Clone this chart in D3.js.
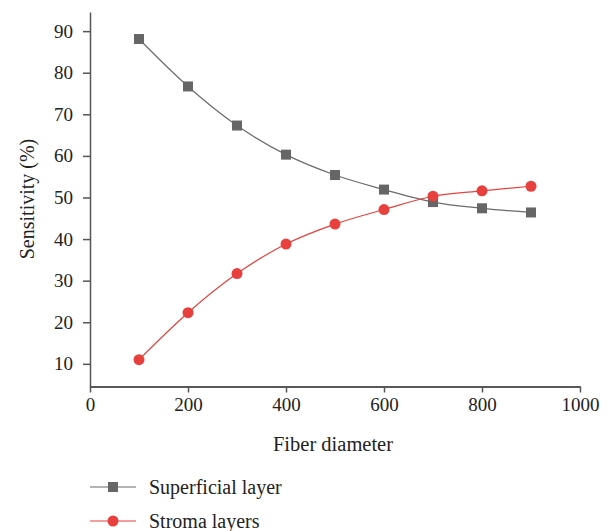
<!DOCTYPE html>
<html>
<head>
<meta charset="utf-8">
<script src="https://cdn.jsdelivr.net/npm/d3@7"></script>
<style>
  body { margin: 0; background: #fff; }
  text { font-family: "Liberation Serif", "DejaVu Serif", serif; fill: #222; }
</style>
</head>
<body>
<script>
// data
var diameters = [100, 200, 300, 400, 500, 600, 700, 800, 900];
var superficial = [88.1, 76.7, 67.3, 60.3, 55.4, 51.9, 48.9, 47.4, 46.4];
var stroma = [11.0, 22.3, 31.7, 38.8, 43.6, 47.1, 50.3, 51.6, 52.7];
var xTicks = [0, 200, 400, 600, 800, 1000];
var yTicks = [10, 20, 30, 40, 50, 60, 70, 80, 90];

var svg = d3.select("body").append("svg")
    .attr("width", 612)
    .attr("height", 531);

var x = d3.scaleLinear().domain([0, 1000]).range([90, 580]);
var y = d3.scaleLinear().domain([4.55, 94.6]).range([386.5, 12]);

// x axis
var xAxis = svg.append("g")
    .attr("transform", "translate(0," + y(4.55) + ")")
    .call(d3.axisBottom(x).tickValues(xTicks).tickFormat(d3.format("d"))
        .tickSize(6).tickPadding(5).tickSizeOuter(0));
xAxis.select(".domain").attr("stroke", "#222").attr("stroke-width", 1.5);
xAxis.selectAll(".tick line").attr("stroke", "#555").attr("stroke-width", 1.5);
xAxis.selectAll("text").attr("font-size", 19).attr("font-family", "Liberation Serif").attr("fill", "#222");

// y axis
var yAxis = svg.append("g")
    .attr("transform", "translate(" + x(0) + ",0)")
    .call(d3.axisLeft(y).tickValues(yTicks).tickSize(7).tickPadding(10).tickSizeOuter(0));
yAxis.select(".domain").attr("stroke", "#555").attr("stroke-width", 1.5);
yAxis.selectAll(".tick line").attr("stroke", "#555").attr("stroke-width", 1.5);
yAxis.selectAll("text").attr("font-size", 19).attr("font-family", "Liberation Serif").attr("fill", "#222");

svg.append("text")
    .attr("x", 333).attr("y", 451)
    .attr("text-anchor", "middle")
    .attr("font-size", 20.5)
    .text("Fiber diameter");

svg.append("text")
    .attr("transform", "translate(34,199) rotate(-90)")
    .attr("text-anchor", "middle")
    .attr("font-size", 20)
    .text("Sensitivity (%)");

var line = d3.line()
    .x(function(d, i) { return x(diameters[i]); })
    .y(function(d) { return y(d); })
    .curve(d3.curveMonotoneX);

// superficial layer
svg.append("path")
    .datum(superficial)
    .attr("d", line)
    .attr("fill", "none")
    .attr("stroke", "#6b6b6b")
    .attr("stroke-width", 1.2);

svg.selectAll(".sq").data(superficial).enter().append("rect")
    .attr("class", "sq")
    .attr("x", function(d, i) { return x(diameters[i]) - 5; })
    .attr("y", function(d) { return y(d) - 5; })
    .attr("width", 10).attr("height", 10)
    .attr("fill", "#666");

// stroma layers
svg.append("path")
    .datum(stroma)
    .attr("d", line)
    .attr("fill", "none")
    .attr("stroke", "#e8413d")
    .attr("stroke-width", 1.2);

svg.selectAll(".ci").data(stroma).enter().append("circle")
    .attr("class", "ci")
    .attr("cx", function(d, i) { return x(diameters[i]); })
    .attr("cy", function(d) { return y(d); })
    .attr("r", 5.5)
    .attr("fill", "#e8413d");

// legend
var legend = svg.append("g");
legend.append("line").attr("x1", 90).attr("x2", 136).attr("y1", 487).attr("y2", 487)
    .attr("stroke", "#6b6b6b").attr("stroke-width", 1.2);
legend.append("rect").attr("x", 108).attr("y", 482).attr("width", 10).attr("height", 10).attr("fill", "#666");
legend.append("text").attr("x", 149).attr("y", 494).attr("font-size", 20).text("Superficial layer");

legend.append("line").attr("x1", 90).attr("x2", 136).attr("y1", 521).attr("y2", 521)
    .attr("stroke", "#e8413d").attr("stroke-width", 1.2);
legend.append("circle").attr("cx", 113).attr("cy", 521).attr("r", 5.5).attr("fill", "#e8413d");
legend.append("text").attr("x", 149).attr("y", 528).attr("font-size", 20).text("Stroma layers");
</script>
</body>
</html>
